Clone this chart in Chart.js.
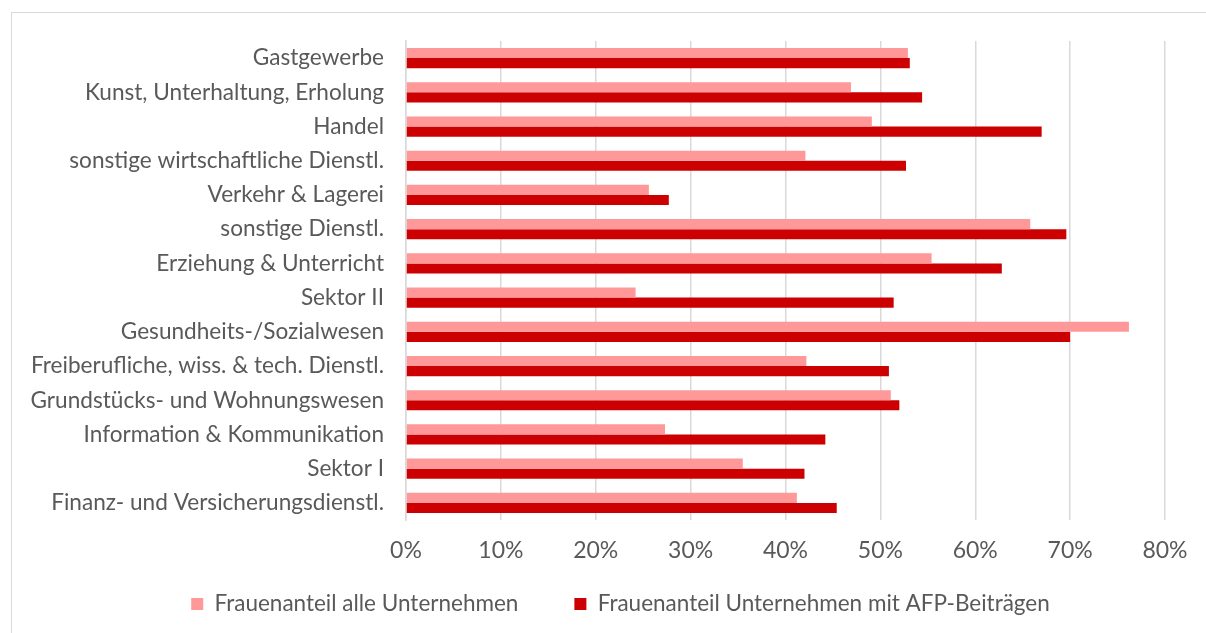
<!DOCTYPE html>
<html>
<head>
<meta charset="utf-8">
<script src="https://cdn.jsdelivr.net/npm/chart.js@4/dist/chart.umd.min.js"></script>
<style>
  html, body { margin: 0; padding: 0; background: #fff; overflow: hidden; }
  #wrap { position: relative; width: 1206px; height: 633px; overflow: hidden; }
  #frame { position: absolute; left: 11px; top: 12px; width: 1400px; height: 800px; border: 1.5px solid #d9d9d9; box-sizing: border-box; }
  canvas { position: absolute; left: 0; top: 0; }
</style>
</head>
<body>
<div id="wrap">
  <div id="frame"></div>
  <canvas id="c" width="1206" height="633"></canvas>
</div>
<script>
const categories = [
  "Gastgewerbe",
  "Kunst, Unterhaltung, Erholung",
  "Handel",
  "sonstige wirtschaftliche Dienstl.",
  "Verkehr & Lagerei",
  "sonstige Dienstl.",
  "Erziehung & Unterricht",
  "Sektor II",
  "Gesundheits-/Sozialwesen",
  "Freiberufliche, wiss. & tech. Dienstl.",
  "Grundstücks- und Wohnungswesen",
  "Information & Kommunikation",
  "Sektor I",
  "Finanz- und Versicherungsdienstl."
];
const seriesNames = ["Frauenanteil alle Unternehmen", "Frauenanteil Unternehmen mit AFP-Beiträgen"];
const alleUnternehmen = [52.9, 46.9, 49.1, 42.1, 25.6, 65.8, 55.4, 24.2, 76.2, 42.2, 51.1, 27.3, 35.5, 41.2];
const mitAFP = [53.1, 54.4, 67.0, 52.7, 27.7, 69.6, 62.8, 51.4, 70.0, 50.9, 52.0, 44.2, 42.0, 45.4];
const xTicks = [0, 10, 20, 30, 40, 50, 60, 70, 80];

const FONT = "Lato, 'Open Sans', sans-serif";
const TEXT = "#595959";
const PAD_LEFT = 10, PAD_RIGHT = 41, PLOT_LEFT = 406, PLOT_TOP = 41, PLOT_BOTTOM = 520;
const LEGEND_SHIFT = 33, LEGEND_H = 40, LEGEND_PAD = 56, LEGEND_FONT = 22.5, LEGEND_CENTER_Y = 604;

const legendFix = {
  id: "legendFix",
  beforeLayout(chart) {
    const lg = chart.legend;
    if (lg && !lg.__patched) {
      const fit = lg.fit;
      lg.fit = function () { fit.call(this); this.height = LEGEND_H; };
      lg.__patched = true;
    }
  },
  afterLayout(chart) {
    const lg = chart.legend;
    if (!lg) return;
    lg.left += LEGEND_SHIFT;
    lg.right += LEGEND_SHIFT;
    lg.top = LEGEND_CENTER_Y - LEGEND_PAD - LEGEND_FONT / 2;
    lg.bottom = chart.height;
    lg.height = lg.bottom - lg.top;
  }
};

new Chart(document.getElementById("c"), {
  type: "bar",
  data: {
    labels: categories,
    datasets: [
      { label: seriesNames[0], data: alleUnternehmen, backgroundColor: "#FF9999", categoryPercentage: 0.59, barPercentage: 1.0 },
      { label: seriesNames[1], data: mitAFP, backgroundColor: "#CC0000", categoryPercentage: 0.59, barPercentage: 1.0 }
    ]
  },
  plugins: [legendFix],
  options: {
    indexAxis: "y",
    responsive: false,
    animation: false,
    devicePixelRatio: 1,
    layout: { padding: { left: PAD_LEFT, right: PAD_RIGHT, top: PLOT_TOP, bottom: 633 - PLOT_BOTTOM - 65 - LEGEND_H } },
    plugins: {
      legend: {
        position: "bottom",
        labels: {
          font: { family: FONT, size: LEGEND_FONT },
          color: TEXT,
          boxWidth: 12,
          boxHeight: 12,
          padding: LEGEND_PAD
        }
      },
      tooltip: { enabled: false }
    },
    scales: {
      x: {
        min: 0, max: 80,
        afterBuildTicks: (s) => { s.ticks = xTicks.map(v => ({ value: v })); },
        afterFit: (s) => { s.height = 65; },
        ticks: {
          font: { family: FONT, size: 23 },
          color: TEXT,
          padding: 17,
          callback: (v) => v + "%"
        },
        grid: { color: "#d9d9d9", lineWidth: 1.5, drawTicks: false },
        border: { display: false }
      },
      y: {
        afterFit: (s) => { s.width = PLOT_LEFT - PAD_LEFT; },
        ticks: {
          font: { family: FONT, size: 22.6 },
          color: TEXT,
          padding: 22,
          autoSkip: false
        },
        grid: { display: false, drawTicks: false },
        border: { display: true, color: "#d9d9d9", width: 1.5 }
      }
    }
  }
});
</script>
</body>
</html>
